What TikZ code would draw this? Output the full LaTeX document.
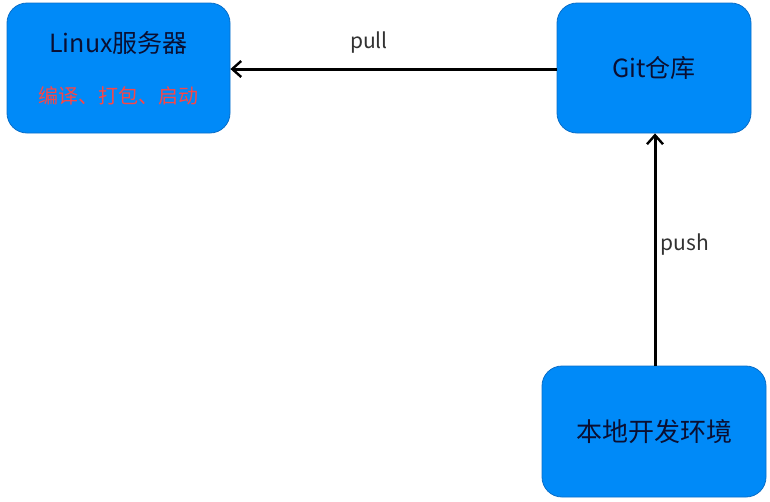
\documentclass[tikz,border=0pt]{standalone}
\usepackage{fontspec}
\setmainfont{Noto Sans CJK SC}
\usetikzlibrary{arrows.meta}
\definecolor{boxblue}{RGB}{0,138,248}
\definecolor{boxedge}{RGB}{10,110,200}
\definecolor{boxtext}{RGB}{10,15,50}
\definecolor{redtext}{RGB}{250,70,70}
\definecolor{lbl}{RGB}{50,50,50}
\begin{document}
\begin{tikzpicture}[x=1pt,y=-1pt,
  box/.style={draw=boxedge, line width=0.8pt, fill=boxblue, rounded corners=20pt, inner sep=0pt, text=boxtext, align=center},
  conn/.style={line width=3pt, -{Straight Barb[length=9pt,width=16pt,line width=2.4pt]}},
  lab/.style={text=lbl, font=\fontsize{21}{25}\selectfont}]
\useasboundingbox (0,0) rectangle (770,501);
\node[box, minimum width=223pt, minimum height=130pt] (linux) at (118.5,68) {};
\node[text=boxtext, font=\fontsize{25}{30}\selectfont] (linuxt) at (118.5,43) {Linux服务器};
\node[text=redtext, font=\fontsize{20}{24}\selectfont] (linuxs) at (118.5,96) {编译、打包、启动};
\node[box, minimum width=194pt, minimum height=130pt, font=\fontsize{25}{30}\selectfont] (git) at (654,68) {Git仓库};
\node[box, minimum width=224pt, minimum height=131pt, font=\fontsize{26}{31}\selectfont] (local) at (654,431.5) {本地开发环境};
\draw[conn] (git.west |- 0,69) -- (linux.east |- 0,69);
\draw[conn] (local.north -| 655,0) -- (git.south -| 655,0);
\node[lab] (pull) at (369,43) {pull};
\node[lab] (push) at (685,245) {push};
\end{tikzpicture}
\end{document}
